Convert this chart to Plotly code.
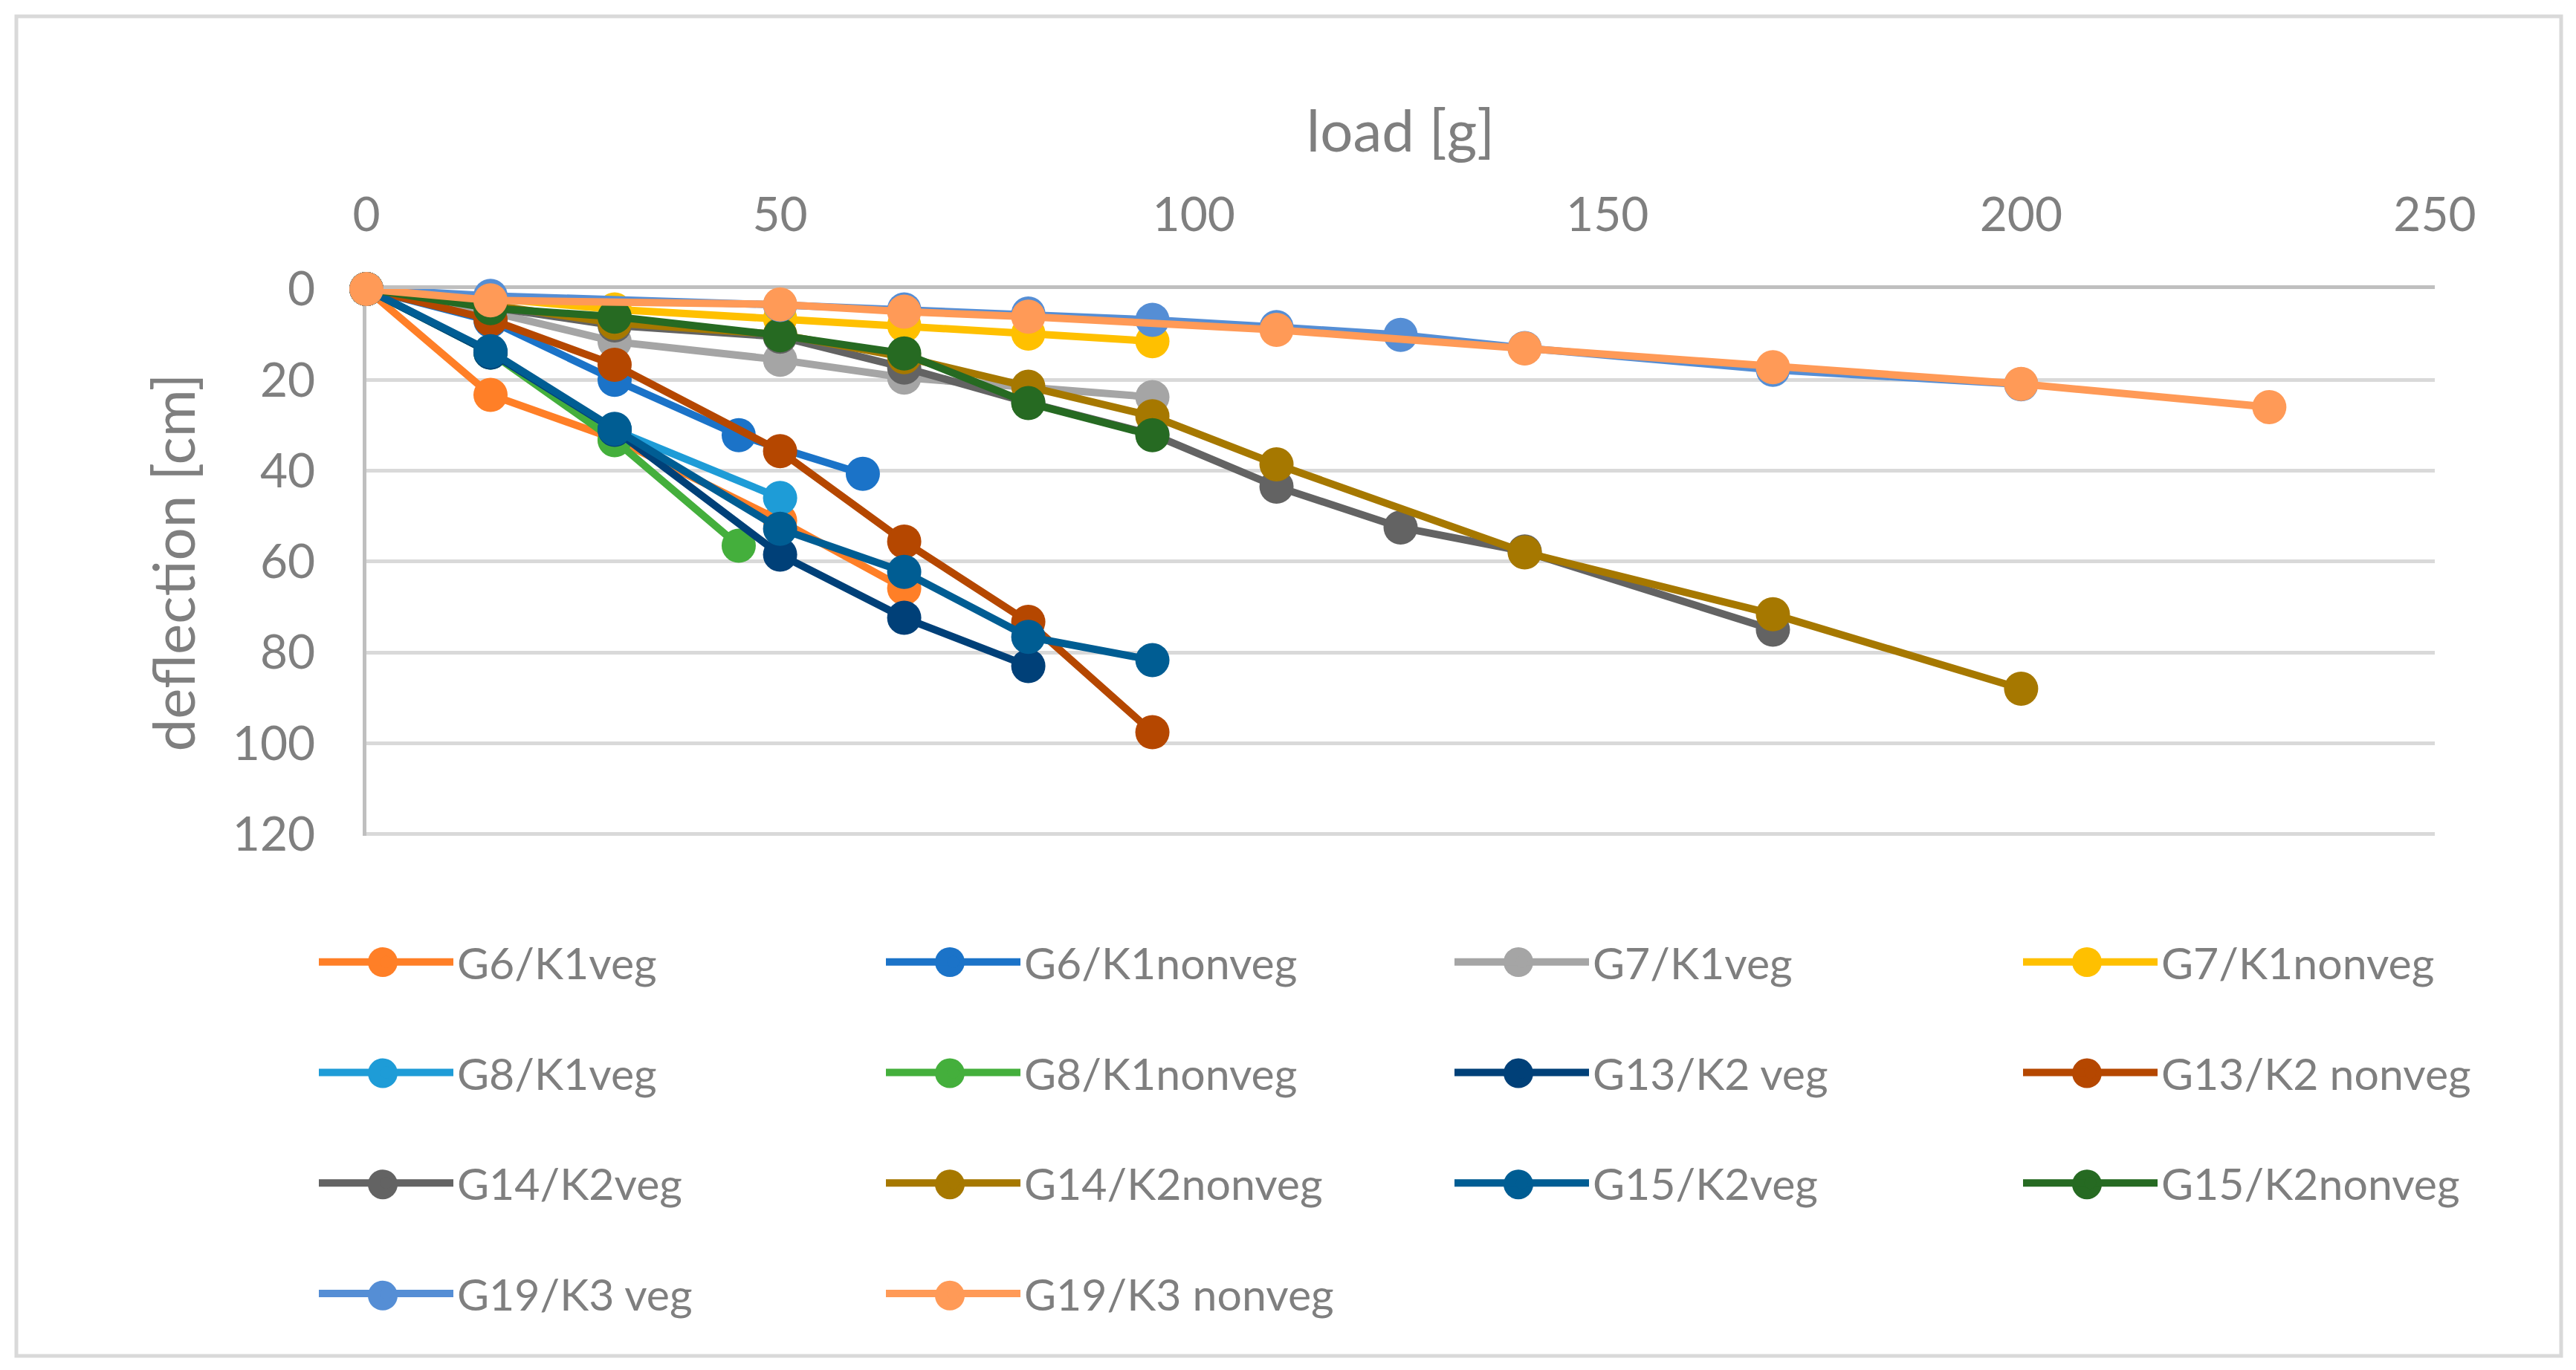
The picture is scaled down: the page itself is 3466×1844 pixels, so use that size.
"""Deflection vs. load for the G/K beam samples (Excel-style line chart)."""
import plotly.graph_objects as go

# --- data ------------------------------------------------------------------
SERIES_NAMES = [
    "G6/K1veg", "G6/K1nonveg", "G7/K1veg", "G7/K1nonveg",
    "G8/K1veg", "G8/K1nonveg", "G13/K2 veg", "G13/K2 nonveg",
    "G14/K2veg", "G14/K2nonveg", "G15/K2veg", "G15/K2nonveg",
    "G19/K3 veg", "G19/K3 nonveg",
]

g6_k1veg_x = [0, 15, 30, 50, 65]
g6_k1veg_y = [0, 23.3, 33, 51, 65.9]

g6_k1nonveg_x = [0, 15, 30, 45, 60]
g6_k1nonveg_y = [0, 7, 20, 32.2, 40.7]

g7_k1veg_x = [0, 15, 30, 50, 65, 95]
g7_k1veg_y = [0, 5, 11.6, 15.6, 19.5, 23.8]

g7_k1nonveg_x = [0, 15, 30, 50, 65, 80, 95]
g7_k1nonveg_y = [0, 2, 4.5, 6.5, 8, 9.8, 11.5]

g8_k1veg_x = [0, 15, 30, 50]
g8_k1veg_y = [0, 14, 31, 46]

g8_k1nonveg_x = [0, 15, 30, 45]
g8_k1nonveg_y = [0, 14, 33.3, 56.5]

g13_k2veg_x = [0, 15, 30, 50, 65, 80]
g13_k2veg_y = [0, 14, 31, 58.5, 72.4, 83]

g13_k2nonveg_x = [0, 15, 30, 50, 65, 80, 95]
g13_k2nonveg_y = [0, 6.7, 16.7, 35.7, 55.6, 73.3, 97.6]

g14_k2veg_x = [0, 15, 30, 50, 65, 80, 95, 110, 125, 140, 170]
g14_k2veg_y = [0, 4, 8, 10.5, 17.3, 25, 32, 43.5, 52.5, 57.8, 75]

g14_k2nonveg_x = [0, 15, 30, 50, 65, 80, 95, 110, 140, 170, 200]
g14_k2nonveg_y = [0, 3.5, 7.5, 10, 15, 21.5, 28, 38.6, 58, 71.6, 88]

g15_k2veg_x = [0, 15, 30, 50, 65, 80, 95]
g15_k2veg_y = [0, 13.7, 30.8, 52.8, 62.3, 76.6, 81.7]

g15_k2nonveg_x = [0, 15, 30, 50, 65, 80, 95]
g15_k2nonveg_y = [0, 4.2, 6.1, 10.2, 14.2, 25.1, 32.2]

g19_k3veg_x = [0, 15, 50, 65, 80, 95, 110, 125, 140, 170, 200]
g19_k3veg_y = [0, 1.5, 3.5, 4.5, 5.4, 6.8, 8.4, 10.1, 13, 17.8, 21]

g19_k3nonveg_x = [0, 15, 50, 65, 80, 110, 140, 170, 200, 230]
g19_k3nonveg_y = [0, 2.5, 3.4, 5, 6.1, 9, 13.1, 17.2, 20.9, 26]

SERIES_X = [g6_k1veg_x, g6_k1nonveg_x, g7_k1veg_x, g7_k1nonveg_x,
            g8_k1veg_x, g8_k1nonveg_x, g13_k2veg_x, g13_k2nonveg_x,
            g14_k2veg_x, g14_k2nonveg_x, g15_k2veg_x, g15_k2nonveg_x,
            g19_k3veg_x, g19_k3nonveg_x]
SERIES_Y = [g6_k1veg_y, g6_k1nonveg_y, g7_k1veg_y, g7_k1nonveg_y,
            g8_k1veg_y, g8_k1nonveg_y, g13_k2veg_y, g13_k2nonveg_y,
            g14_k2veg_y, g14_k2nonveg_y, g15_k2veg_y, g15_k2nonveg_y,
            g19_k3veg_y, g19_k3nonveg_y]

# --- style -----------------------------------------------------------------
COLORS = [
    "#FF7F27", "#1B73C8", "#A5A5A5", "#FFC000",
    "#1E9CD7", "#44AF3C", "#004078", "#B54700",
    "#636363", "#A67800", "#005D93", "#266A22",
    "#558ED5", "#FF9A57",
]
FONT = "Lato, 'Open Sans', sans-serif"
TXT = "#7F7F7F"
GRID = "#D9D9D9"
AXIS = "#BFBFBF"
W, H = 3466, 1844
ML, MR, MT, MB = 493, 190, 389, 719
PW, PH = W - ML - MR, H - MT - MB

# legend column anchors and top edge, in page pixels
LEG_X = [424, 1187, 1952, 2717]
LEG_TOP = 1250
LEG_ROW = 149.6      # row pitch of the legend
LEG_DOT = (91, 45)   # offset of the swatch centre from a legend's corner


def px_to_paper(px, py):
    return (px - ML) / PW, (H - MB - py) / PH


fig = go.Figure()
for i, name in enumerate(SERIES_NAMES):
    leg = "legend" if i % 4 == 0 else f"legend{i % 4 + 1}"
    fig.add_trace(go.Scatter(
        x=SERIES_X[i], y=SERIES_Y[i], mode="lines+markers", name=name,
        legend=leg, legendgroup=name, cliponaxis=False,
        line=dict(color=COLORS[i], width=10),
        marker=dict(color=COLORS[i], size=46, line=dict(width=0)),
        hovertemplate=name + "<br>load %{x} g<br>deflection %{y} cm<extra></extra>"))

legends = {}
for k in range(4):
    key = "legend" if k == 0 else f"legend{k + 1}"
    lx, ly = px_to_paper(LEG_X[k], LEG_TOP)
    legends[key] = dict(
        x=lx, y=ly, xref="paper", yref="paper",
        xanchor="left", yanchor="top", orientation="v",
        bgcolor="rgba(0,0,0,0)", font=dict(size=59, color=TXT, family=FONT),
        itemwidth=181, tracegroupgap=69)

fig.update_layout(
    width=W, height=H,
    margin=dict(l=ML, r=MR, t=MT, b=MB, autoexpand=False),
    paper_bgcolor="white", plot_bgcolor="white",
    font=dict(family=FONT, color=TXT, size=64),
    hoverlabel=dict(font_size=28),
    **legends,
)

fig.update_xaxes(
    side="top", range=[0, 250], dtick=50, showgrid=False, zeroline=False,
    showline=True, linecolor=AXIS, linewidth=5, ticks="", layer="below traces",
    tickfont=dict(size=64, color=TXT), ticklabelstandoff=47, automargin=False,
    title=dict(text="load [g]", font=dict(size=78, color=TXT), standoff=20))
# a hair past 120 so the bottom gridline is not clipped at the plot edge
fig.update_yaxes(
    range=[120.4, 0], tick0=0, dtick=20, showgrid=True, gridcolor=GRID, gridwidth=5,
    zeroline=False, showline=True, linecolor=AXIS, linewidth=5, ticks="",
    layer="below traces", tickfont=dict(size=64, color=TXT), ticklabelstandoff=51,
    automargin=False,
    title=dict(text="deflection [cm]", font=dict(size=78, color=TXT), standoff=26))

# Excel-size marker dots on the legend swatches (plotly caps them at 16 px)
for i in range(len(SERIES_NAMES)):
    col, row = i % 4, i // 4
    cx, cy = px_to_paper(LEG_X[col] + LEG_DOT[0], LEG_TOP + LEG_DOT[1] + row * LEG_ROW)
    fig.add_shape(type="circle", xref="paper", yref="paper",
                  xsizemode="pixel", ysizemode="pixel", xanchor=cx, yanchor=cy,
                  x0=-20, x1=20, y0=-20, y1=20,
                  fillcolor=COLORS[i], line=dict(width=0))

# outer chart-area frame
fx0, fy0 = px_to_paper(22, H - 19)
fx1, fy1 = px_to_paper(W - 20, 22)
fig.add_shape(type="rect", xref="paper", yref="paper", layer="below",
              x0=fx0, x1=fx1, y0=fy0, y1=fy1,
              line=dict(color=GRID, width=5), fillcolor="rgba(0,0,0,0)")

fig.write_html("out.html", config={"displayModeBar": False},
               post_script="document.body.style.margin='0';")
